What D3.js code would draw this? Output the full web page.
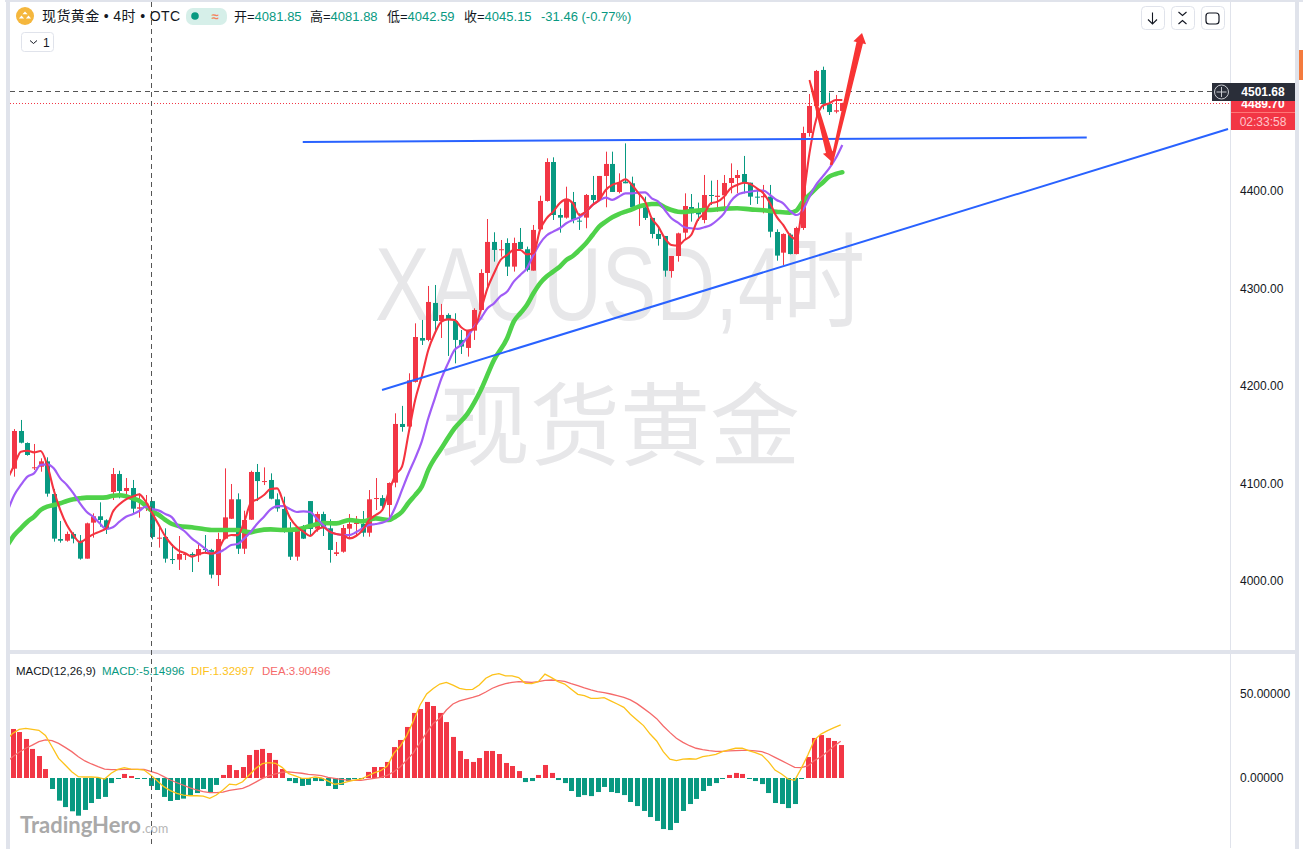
<!DOCTYPE html>
<html><head><meta charset="utf-8">
<script src="https://cdn.jsdelivr.net/npm/d3@7"></script>
<style>html,body{margin:0;padding:0;background:#fff;overflow:hidden}svg{display:block}
text{font-family:"Liberation Sans","Noto Sans CJK SC",sans-serif}</style></head><body><div id="c"></div>
<script>
const opens=[4115.1,4153.7,4141.4,4115.8,4117.1,4122.6,4089.1,4043,4041.3,4048.2,4041.3,4022.9,4059.8,4066.3,4062.2,4091.2,4109.6,4092.2,4095.3,4074.1,4078.5,4081.85,4043.7,4045.1,4022.5,4021.9,4027,4027.7,4026.3,4032.8,4031.8,4006.1,4043.4,4063.8,4083.7,4033.1,4062.8,4111.7,4101.8,4103.5,4083.7,4073.8,4053.6,4024.9,4053.3,4081.9,4053.6,4068.6,4054,4027.7,4030,4053.6,4058.4,4058.4,4049.5,4084.3,4085,4077.9,4100.8,4160.9,4158.2,4204,4249,4247,4284.9,4266.4,4272.6,4266.4,4247,4238.8,4256.5,4277.7,4315.6,4347.4,4339.2,4346.3,4322.1,4347.4,4339.9,4318,4360.3,4389.4,4429.3,4375,4372.3,4388.3,4369.2,4372.3,4395.5,4390.4,4415,4427.3,4398.6,4409.2,4407.5,4382.5,4382.9,4372,4355.6,4353.5,4317.6,4333,4356.9,4383.2,4381.2,4369.9,4395.5,4393.5,4395.2,4407.8,4412.9,4417,4408.1,4393.8,4393.1,4393.8,4357.6,4336.4,4354.9,4335,4361.7,4459,4486.7,4523.6,4488.7,4480.9,4481.6];
const highs=[4155.7,4165,4142,4140.4,4125.7,4126.7,4094.3,4061.5,4050.6,4049.9,4047.1,4059.8,4069.3,4080.6,4063.2,4115.8,4113,4105.5,4103.5,4089.8,4088.1,4081.88,4055,4054,4037.9,4046.1,4028.4,4029.4,4037.6,4047.1,4033,4049.5,4115.4,4099.4,4089.8,4072,4113,4119.9,4116.4,4110.3,4089.8,4086.4,4060.4,4055,4057.4,4081.9,4071,4071,4063.2,4040,4057.4,4068.6,4066.6,4071.7,4093.2,4105.5,4088,4101,4171.8,4179.4,4212.8,4264,4267.5,4302.3,4303.3,4283.9,4274.3,4274.3,4257.2,4257.2,4279.4,4319.4,4370.9,4357.3,4349.4,4351.1,4351.8,4361.7,4342.6,4364.8,4394.8,4433.1,4434.1,4381.8,4404,4398.6,4376.7,4396.5,4415,4415,4439.9,4439.9,4417.7,4448.4,4414.3,4397.2,4393.8,4372,4362.4,4353.5,4333,4356.9,4397.2,4396.5,4387.7,4416,4410.2,4410.9,4416,4427.9,4421.1,4435.5,4408.1,4402.3,4405.8,4405.8,4360.3,4356.2,4356.2,4363,4465.5,4499,4523.6,4527,4500.4,4498,4490];
const lows=[4106.9,4141,4128.4,4113.7,4112,4086.4,4040.3,4039.3,4040.3,4038.6,4021.9,4022.9,4044.4,4055.7,4048.2,4083,4084.7,4087.1,4069.3,4064.9,4071.7,4042.59,4034.2,4018.8,4017.4,4011.3,4021.5,4009.2,4019.5,4028.4,4002.7,3994.9,4042.7,4063.5,4027.7,4027.7,4062.5,4081.9,4098.3,4083.7,4071,4049.5,4021.5,4020.8,4043,4047.1,4050.5,4046.1,4018.8,4025.6,4029,4043,4046.1,4045.4,4045.4,4072.7,4073.4,4064.2,4096,4153,4158.2,4203.3,4241.8,4245.6,4253.8,4249,4230.6,4223,4232.6,4229.9,4247,4277.7,4301.6,4327.2,4332.3,4312.5,4317,4339.2,4317,4318,4359.7,4388.7,4369.9,4356.9,4371.3,4366.5,4359.7,4361.4,4385.3,4389.7,4382.9,4398.9,4397.2,4407.5,4382.9,4363.8,4369.9,4351.1,4343.6,4311.8,4310.8,4327.2,4349.4,4368.2,4368.9,4366.5,4385.3,4378.4,4377.4,4397.2,4397.2,4397.2,4385.3,4386.3,4376.7,4352.1,4328.2,4323.8,4334.7,4334.7,4359.7,4455.3,4472.4,4483.3,4477.5,4479.2,4480.9];
const closes=[4153.7,4141.7,4129.1,4116.5,4122.6,4089.5,4043.4,4041.3,4048.2,4043.4,4022.9,4059.1,4066.3,4062.5,4053,4109.6,4092.2,4095.3,4074.1,4075.5,4079.2,4045.15,4044.4,4022.9,4021.5,4027.7,4027.7,4026.3,4032.8,4031.8,4006.5,4043,4065.2,4083.7,4033.1,4062.5,4111.7,4102.4,4102.4,4084.3,4074.4,4053.6,4024.9,4053.3,4043.4,4053.3,4068.6,4054,4031.8,4029.4,4054.3,4058.4,4059.8,4049.5,4083.7,4085,4077,4100.4,4160.9,4157.8,4205.6,4250,4246.3,4285.9,4266.4,4272.6,4268.1,4247,4240.2,4257,4277.7,4315.6,4347.4,4339.2,4339.9,4322.1,4346.3,4340.2,4318.7,4359.7,4389.4,4429.3,4375,4372.3,4391.1,4369.9,4368.2,4395.5,4390.4,4415,4427.3,4398.6,4408.5,4407.5,4382.9,4383.6,4372,4355.6,4350.4,4318,4333,4356.2,4384.2,4376.7,4375.7,4395.5,4394.5,4394.8,4407.8,4412.9,4416,4407.5,4393.8,4392.8,4394.5,4357.9,4333.4,4355.6,4335,4361.7,4459,4486.7,4522.6,4488.7,4480.5,4482.3,4489.7];

const maFast=[4105,4118.9,4132.5,4133.5,4131.8,4133.2,4118.9,4093.2,4072.7,4057.4,4047.1,4039.6,4043.7,4047.8,4050.6,4054,4071,4078.6,4083.7,4086.4,4088.8,4081.3,4069.3,4057.4,4045.4,4036.9,4031.1,4028.4,4025,4027.3,4029,4028,4031.8,4043.7,4047.1,4047,4060.8,4080.2,4083.7,4088.1,4094.2,4094.9,4079.6,4064.2,4055.7,4050.5,4046.1,4052.2,4055,4050.5,4048.1,4047.1,4043.7,4046.1,4052.2,4062.5,4067.6,4072.7,4091.5,4108.7,4117.2,4151.3,4185.5,4209.4,4236.7,4253.8,4265.8,4268.1,4267.5,4260,4256.5,4258.9,4277.7,4299.9,4315.3,4328.9,4334,4339.2,4339.2,4334.7,4335.7,4359.7,4371.6,4378.4,4387,4391,4387,4375,4378.4,4385.3,4390.4,4400.6,4405.8,4408.1,4411.6,4405.8,4397.2,4388.7,4371.6,4363.1,4351.1,4344.3,4343.6,4349.4,4354.5,4369.9,4376.7,4387,4388.7,4393.8,4402.3,4405.8,4408.1,4406.8,4402.3,4397.2,4387,4373.3,4364.8,4354.5,4350,4388.7,4438.2,4472.4,4487,4489.4,4492.8,4492.8];
const maMid=[4072,4088.1,4098.4,4106.9,4110.3,4118.9,4119.5,4115.4,4105.2,4098.4,4089.8,4079.6,4071,4065.9,4059.1,4053.3,4055,4060.8,4065.9,4068.3,4071.7,4076.2,4073.8,4072.1,4068.7,4065.2,4055.7,4050.5,4043.7,4038.6,4033.5,4028.4,4029,4032.4,4036.9,4037.9,4043.7,4050.5,4059,4065.9,4073.4,4076.8,4076.8,4073.4,4070.7,4071.4,4070.7,4064.2,4057.4,4050.5,4048.1,4047.1,4047.1,4049.9,4054,4057.4,4058.4,4059.8,4063.2,4076.1,4093.3,4110.4,4125.7,4142.8,4166.7,4187.2,4207.7,4223,4236.7,4241.8,4250.4,4260.6,4269.2,4279.4,4284.5,4292,4296.5,4306.7,4313.6,4320.4,4334,4346,4354,4358,4361.4,4366.5,4369.9,4372.6,4378.4,4385.3,4389.7,4392.8,4390.4,4393.8,4397.2,4397.2,4397.9,4398.2,4392.1,4388.7,4380.1,4371.6,4367.2,4362.4,4361.4,4360.7,4362.4,4364.8,4369.9,4376.7,4388.7,4395.5,4397.9,4398.9,4400,4400,4395.5,4390.4,4387,4379.5,4375,4380.1,4393.8,4405.8,4414.3,4422.8,4433.1,4446.7];
const maSlowIdx=[-1,0,1,2,3,4,5,6,7,8,9,10,11,13,14,15,16,17,18,19,20,21,22,23,24,25,27,29,30,32,34,36,37,39,41,43,45,47,49,51,53,55,57,58,59,60,61,62,63,65,67,69,71,73,75,76,77,78,79,80,81,82,83,84,85,86,87,88,89,90,91,92,93,94,95,96,97,98,99,100,101,102,103,104,105,106,108,110,112,114,116,118,119,120,121,122,123,124,125,126];
const maSlow=[4037,4047.1,4054,4060.8,4065.9,4072.7,4076.2,4077.9,4079.6,4082,4083.7,4084.7,4085.4,4085.4,4085.7,4087.4,4087.8,4086.8,4084.7,4082.3,4077.2,4071.7,4067.6,4062.5,4058.4,4056.4,4055,4053,4052.2,4052.2,4052.2,4049.8,4051.6,4052.9,4052.2,4052.9,4056.3,4059.4,4059,4062.5,4061.1,4064.2,4062.5,4065.9,4071,4080.2,4088,4096.7,4113.8,4136,4156.5,4171.8,4195.7,4226.5,4248.7,4265.8,4274.3,4282.8,4294.8,4305,4311.9,4317,4322,4328.9,4333,4339.2,4346,4354.5,4363.1,4368.2,4372.6,4376,4378.4,4380.8,4383.6,4385.3,4386.3,4386.3,4382.9,4380.1,4378.4,4378.1,4379.2,4379.5,4380.1,4380.1,4381.5,4381.9,4380.8,4379.8,4378.4,4377.4,4379.5,4388.7,4395.5,4402.3,4408.1,4414.3,4417,4418.7];

const macdHist=[29,27.2,23.1,17.2,13,5.3,-6.5,-13.4,-17.2,-19.7,-22.3,-18.9,-14.8,-12.4,-11.2,-3,-0.4,2.4,1.2,-0.4,-0.4,-4.7,-7.1,-11.2,-13.6,-13,-12.2,-10.4,-8.9,-6.5,-8.7,-4.1,1.8,7.7,4.7,6.5,13.6,16.6,17.2,14.8,10.7,5.3,-1.8,-3,-4.7,-4.1,-1.8,-1.8,-4.7,-6.5,-4.1,-1.8,-0.6,-0.4,3.6,6.5,6.5,9.5,18.3,22.5,30.2,38.5,40.8,45,42.6,38.5,33.1,24.3,16,11.2,9.5,11.8,16,16,14.2,8.9,7.1,4.1,-2.4,-1.8,1.8,7.7,3,-1.2,-3,-7.7,-11.2,-10.1,-10.7,-8.3,-5.3,-8.3,-8.9,-10.1,-14.2,-16.6,-19.5,-23.1,-25.4,-30.2,-30.8,-26.6,-19.5,-15.4,-12.4,-7.7,-4.7,-3,-0.4,1.8,3,2.4,-0.4,-1.8,-3.6,-8.9,-14.8,-15.4,-17.8,-15.4,-0.4,12.4,23.7,25.4,23.7,21.9,19.5];
const macdDif=[22,26.4,28.8,29.4,28.8,28.2,25.2,18.5,11.6,7.7,3.7,0.8,0.6,0.6,0.4,-0.6,2.8,5.1,6.1,5.3,5.1,4.7,1.8,-1.6,-5.1,-7.5,-9.1,-10.1,-10.5,-10.5,-10.7,-12,-10.1,-7.1,-3.6,-4.1,-2.2,1.8,5.7,8.5,9.1,8.7,6.3,2.6,1.2,-0.2,-0.2,0.6,0,-1.8,-3.7,-3.2,-2.2,-1.2,-0.6,1.2,3,4.3,7.1,14.6,18.9,25.4,33.9,43.2,49.7,53,55.6,56.6,55,53,52.3,52.5,55,59,61,61.7,60.4,60.4,59.4,56,55.8,57,61.5,59.4,57,55.6,52.5,49.5,48.7,47.1,47.1,47.5,45.6,43.8,41.8,37.7,34.3,31,26,21.9,15.6,11.2,10.3,11.2,11.4,11.2,12.6,13.2,14,15.6,16.6,17.6,17.6,16.2,15,13.6,9.7,4.7,2.4,-0.6,-1.4,5.7,13.6,22.5,26,28,29.8,31.4];
const macdDea=[9,12.6,15.2,17.6,19.5,21.5,22.5,22.1,20.5,18.1,15.6,12.6,10.1,8.3,6.7,5.3,4.9,4.9,5.1,5.1,5.1,5.1,3.9,2.8,0.8,-1.2,-2.8,-4.3,-5.9,-7.1,-8.1,-8.7,-8.7,-8.3,-7.3,-6.7,-6.1,-4.5,-2.4,-0.2,1.2,2.4,3.4,3.6,3.2,2.8,2.2,1.8,1.4,0.4,-0.2,-0.8,-1.2,-1.4,-1.4,-0.8,-0.2,0.4,1.6,3.7,6.7,10.7,15,20.9,26.8,32.3,35.3,40.2,43.8,45.6,46.7,47.7,48.9,50.9,53.1,54.6,55.8,56.6,57,56.8,56.6,57,57.8,58,57.6,57.2,55.8,54.6,53.3,52.1,51.1,50.5,49.7,48.7,47.7,46.2,44,41.2,38.3,35.1,30.8,27,23.5,21.1,19.1,17.6,16.8,16.2,15.8,15.8,16,16.2,16.4,16.4,16,15.6,14.2,12.2,10.3,8.3,6.3,6.1,7.1,10.3,12.6,15.6,18.9,21.7];

const priceTicks=[4000,4100,4200,4300,4400];
const macdTicks=[0,50];
const trendFlat=[[43.9,4449.8],[163.2,4454.4]];
const trendUp=[[55.96,4195.7],[184.7,4463.1]];
const arrowDown=[[121,4513.3],[124.4,4429.6]];
const arrowUp=[[124.3,4426.2],[129,4561.5]];
const crossIdx=21.1, crossPrice=4501.68, lastPrice=4489.70;
const titleText="现货黄金 • 4时 • OTC";
const ohlcLabels=[["开=","4081.85"],["高=","4081.88"],["低=","4042.59"],["收=","4045.15"]];
const changeText="-31.46 (-0.77%)";
const macdLegend=[["MACD(12,26,9)","#131722"],["MACD:-5.14996","#089981"],["DIF:1.32997","#fdc21a"],["DEA:3.90496","#f56a6a"]];

const UP="#f23645",DOWN="#089981",FRAME="#e0e3eb";
const W=1303,H=849;
const svg=d3.select("#c").append("svg").attr("width",W).attr("height",H);
const x=d3.scaleLinear().domain([0,126]).range([14.3,842.3]);
const xM=d3.scaleLinear().domain([0,126]).range([12.6,840.7]);
const y=d3.scaleLinear().domain([4000,4400]).range([581,190.6]);
const yM=d3.scaleLinear().domain([0,50]).range([778,693.5]);

const defs=svg.append("defs");
defs.append("clipPath").attr("id","pm").append("rect").attr("x",10).attr("y",2).attr("width",1220).attr("height",648);
defs.append("clipPath").attr("id","pb").append("rect").attr("x",10).attr("y",654).attr("width",1220).attr("height",194);

// frame
const fr=svg.append("g").attr("fill",FRAME);
fr.append("rect").attr("x",5).attr("y",0).attr("width",W-5).attr("height",2);
fr.append("rect").attr("x",6).attr("y",0).attr("width",4).attr("height",H);
fr.append("rect").attr("x",1295).attr("y",0).attr("width",4).attr("height",H);
fr.append("rect").attr("x",10).attr("y",650).attr("width",1285).attr("height",4);
svg.append("rect").attr("x",1299).attr("y",50).attr("width",4).attr("height",30).attr("fill","#f47b3e");
svg.append("line").attr("x1",1230.5).attr("x2",1230.5).attr("y1",2).attr("y2",848).attr("stroke",FRAME);

// watermarks
const wm=svg.append("g").attr("fill","#e7e7e9").attr("text-anchor","middle");
wm.append("text").attr("x",620).attr("y",320).attr("font-size",104).attr("textLength",490).attr("lengthAdjust","spacingAndGlyphs").text("XAUUSD,4时");
wm.append("text").attr("x",620).attr("y",458).attr("font-size",90).style("font-family","'Noto Sans CJK SC',sans-serif").text("现货黄金");

const main=svg.append("g").attr("clip-path","url(#pm)");
// price levels
main.append("line").attr("x1",10).attr("x2",1212).attr("y1",Math.round(y(crossPrice))+.5).attr("y2",Math.round(y(crossPrice))+.5).attr("stroke","#555").attr("stroke-dasharray","5,4");
main.append("line").attr("x1",10).attr("x2",1230).attr("y1",Math.round(y(lastPrice))+.5).attr("y2",Math.round(y(lastPrice))+.5).attr("stroke",UP).attr("stroke-dasharray","1,2");

// candles
const idx=d3.range(opens.length);
const col=i=>closes[i]>=opens[i]?UP:DOWN;
const cg=main.append("g");
cg.selectAll("line").data(idx).join("line")
 .attr("x1",i=>Math.round(x(i))+.5).attr("x2",i=>Math.round(x(i))+.5)
 .attr("y1",i=>y(highs[i])).attr("y2",i=>y(lows[i])).attr("stroke",col);
cg.selectAll("rect").data(idx).join("rect")
 .attr("x",i=>Math.round(x(i))-2).attr("width",5)
 .attr("y",i=>y(Math.max(opens[i],closes[i])))
 .attr("height",i=>Math.max(1,Math.abs(y(opens[i])-y(closes[i]))))
 .attr("fill",col);

// moving averages
const ln=d3.line().x(d=>x(d[0])).y(d=>y(d[1])).curve(d3.curveMonotoneX);
const withLead=a=>a.map((v,i)=>[i-1,v]);
main.append("path").attr("d",ln(d3.zip(maSlowIdx,maSlow))).attr("fill","none").attr("stroke","#4fd24a").attr("stroke-width",4.6).attr("stroke-linecap","round");
main.append("path").attr("d",ln(withLead(maMid))).attr("fill","none").attr("stroke","#a05cf6").attr("stroke-width",2.2);
main.append("path").attr("d",ln(withLead(maFast))).attr("fill","none").attr("stroke","#f5333f").attr("stroke-width",2.1);

// trend lines
const tl=d3.line().x(d=>x(d[0])).y(d=>y(d[1]));
[trendFlat,trendUp].forEach(t=>main.append("path").attr("d",tl(t)).attr("fill","none").attr("stroke","#2962ff").attr("stroke-width",2));

// arrows
function arrow(a,w0,w1,hw,hl){
 const X0=x(a[0][0]),Y0=y(a[0][1]),X1=x(a[1][0]),Y1=y(a[1][1]);
 const L=Math.hypot(X1-X0,Y1-Y0),ux=(X1-X0)/L,uy=(Y1-Y0)/L,nx=-uy,ny=ux;
 const bx=X1-ux*hl,by=Y1-uy*hl;
 const pts=[[X0+nx*w0,Y0+ny*w0],[bx+nx*w1,by+ny*w1],[bx+nx*hw,by+ny*hw],[X1,Y1],[bx-nx*hw,by-ny*hw],[bx-nx*w1,by-ny*w1],[X0-nx*w0,Y0-ny*w0]];
 main.append("polygon").attr("points",pts.map(p=>p.join(",")).join(" ")).attr("fill","#f83434");
}
arrow(arrowDown,0.9,3.3,6.5,10);
arrow(arrowUp,1.4,3.3,6.5,10);

// macd pane
const pb=svg.append("g").attr("clip-path","url(#pb)");
pb.selectAll("rect").data(macdHist).join("rect")
 .attr("x",(d,i)=>Math.round(xM(i))-2).attr("width",5)
 .attr("y",d=>d>=0?yM(d):yM(0)).attr("height",d=>Math.max(1,Math.abs(yM(d)-yM(0))))
 .attr("fill",d=>d>=0?UP:DOWN);
const lm=d3.line().x(d=>xM(d[0])).y(d=>yM(d[1]));
pb.append("path").attr("d",lm(macdDea.map((v,i)=>[i-1,v]))).attr("fill","none").attr("stroke","#f56a6a").attr("stroke-width",1.3);
pb.append("path").attr("d",lm(macdDif.map((v,i)=>[i-1,v]))).attr("fill","none").attr("stroke","#fdc21a").attr("stroke-width",1.3);

// crosshair
svg.append("line").attr("x1",151.5).attr("x2",151.5).attr("y1",2).attr("y2",848).attr("stroke","#555").attr("stroke-dasharray","5,4");

// axes
const axP=svg.append("g").attr("transform","translate(1231,0)").call(d3.axisRight(y).tickValues(priceTicks).tickSize(0).tickPadding(9).tickFormat(d3.format(".2f")));
const axM=svg.append("g").attr("transform","translate(1231,0)").call(d3.axisRight(yM).tickValues(macdTicks).tickSize(0).tickPadding(9).tickFormat(d3.format(".5f")));
[axP,axM].forEach(a=>{a.select(".domain").remove();a.selectAll("text").attr("font-size",12).attr("fill","#131722").style("font-family","'Liberation Sans',sans-serif");});

// price labels
const lab=svg.append("g").attr("text-anchor","middle");
lab.append("rect").attr("x",1231).attr("y",100).attr("width",64).attr("height",13).attr("fill",UP);
lab.append("text").attr("x",1263).attr("y",y(lastPrice)+5).attr("font-size",12).attr("font-weight","bold").attr("fill","#fff").text(d3.format(".2f")(lastPrice));
lab.append("line").attr("x1",1231).attr("x2",1295).attr("y1",112.5).attr("y2",112.5).attr("stroke","#f77");
lab.append("rect").attr("x",1231).attr("y",113).attr("width",64).attr("height",17).attr("fill",UP);
lab.append("text").attr("x",1263).attr("y",126).attr("font-size",12).attr("fill","#ffc4c9").text("02:33:58");
lab.append("rect").attr("x",1212).attr("y",83).attr("width",83).attr("height",18).attr("fill","#2a2e39");
lab.append("text").attr("x",1263).attr("y",96).attr("font-size",12).attr("font-weight","bold").attr("fill","#fff").text(d3.format(".2f")(crossPrice));
lab.append("circle").attr("cx",1221.5).attr("cy",92).attr("r",7).attr("fill","none").attr("stroke","#c8cad0");
lab.append("path").attr("d","M1216.5 92H1226.5M1221.5 87V97").attr("stroke","#c8cad0");

// header
const hd=svg.append("g").attr("font-size",13);
hd.append("circle").attr("cx",25).attr("cy",16).attr("r",9).attr("fill","#f5b73d");
hd.append("path").attr("d","M25 11.5l2.6 2.8h-5.2zM21.5 15.5l2.6 2.9h-5.2zM28.5 15.5l2.6 2.9h-5.2z").attr("fill","#fff");
hd.append("text").attr("x",42).attr("y",21).attr("font-size",14).attr("fill","#131722").attr("textLength",138).text(titleText);
hd.append("rect").attr("x",186).attr("y",8).attr("width",41).attr("height",17).attr("rx",7).attr("fill","#d6efe9");
hd.append("circle").attr("cx",195).attr("cy",16).attr("r",3.8).attr("fill",DOWN);
hd.append("text").attr("x",215).attr("y",21).attr("text-anchor","middle").attr("font-size",13).attr("font-weight","bold").attr("fill","#f4845f").text("≈");
[234,310,387,464].forEach((px,i)=>{
 const t=hd.append("text").attr("x",px).attr("y",21).attr("font-size",13);
 t.append("tspan").attr("fill","#131722").text(ohlcLabels[i][0]);
 t.append("tspan").attr("fill",DOWN).text(ohlcLabels[i][1]);
});
hd.append("text").attr("x",541).attr("y",21).attr("font-size",13).attr("fill",DOWN).text(changeText);
hd.append("rect").attr("x",21.5).attr("y",32.5).attr("width",32).attr("height",19).attr("rx",3).attr("fill","#fff").attr("stroke",FRAME);
hd.append("path").attr("d","M30 40.5l3.5 3 3.5-3").attr("fill","none").attr("stroke","#131722");
hd.append("text").attr("x",43).attr("y",47).attr("font-size",12).attr("fill","#131722").text("1");

// buttons
const bt=svg.append("g");
[1141,1171,1201].forEach(px=>bt.append("rect").attr("x",px+.5).attr("y",6.5).attr("width",23).attr("height",23).attr("rx",4).attr("fill","#fff").attr("stroke",FRAME));
bt.append("path").attr("d","M1152.5 12.5V24M1148 19.5l4.5 4.5 4.5-4.5").attr("fill","none").attr("stroke","#131722").attr("stroke-width",1.1);
bt.append("path").attr("d","M1178.5 12l4 3.5 4-3.5M1178.5 24l4-3.5 4 3.5").attr("fill","none").attr("stroke","#131722").attr("stroke-width",1.1);
bt.append("path").attr("d","M1209 13h7q3 0 3 3v5q0 3-3 3h-7q-3 0-3-3v-5q0-3 3-3z").attr("fill","none").attr("stroke","#131722").attr("stroke-width",1.2);

// macd legend
const lg=svg.append("g").attr("font-size",11.5);
[16,102,191,262].forEach((px,i)=>lg.append("text").attr("x",px).attr("y",675).attr("fill",macdLegend[i][1]).text(macdLegend[i][0]));

// brand
const br=svg.append("g");
br.append("text").attr("x",20).attr("y",833).attr("font-size",22).attr("font-weight","bold").attr("fill","#a9a9a9").style("font-family","Lato,sans-serif").text("TradingHero");
br.append("text").attr("x",142).attr("y",833).attr("font-size",12.5).attr("fill","#b5b5b5").style("font-family","Lato,sans-serif").text(".com");
</script></body></html>
